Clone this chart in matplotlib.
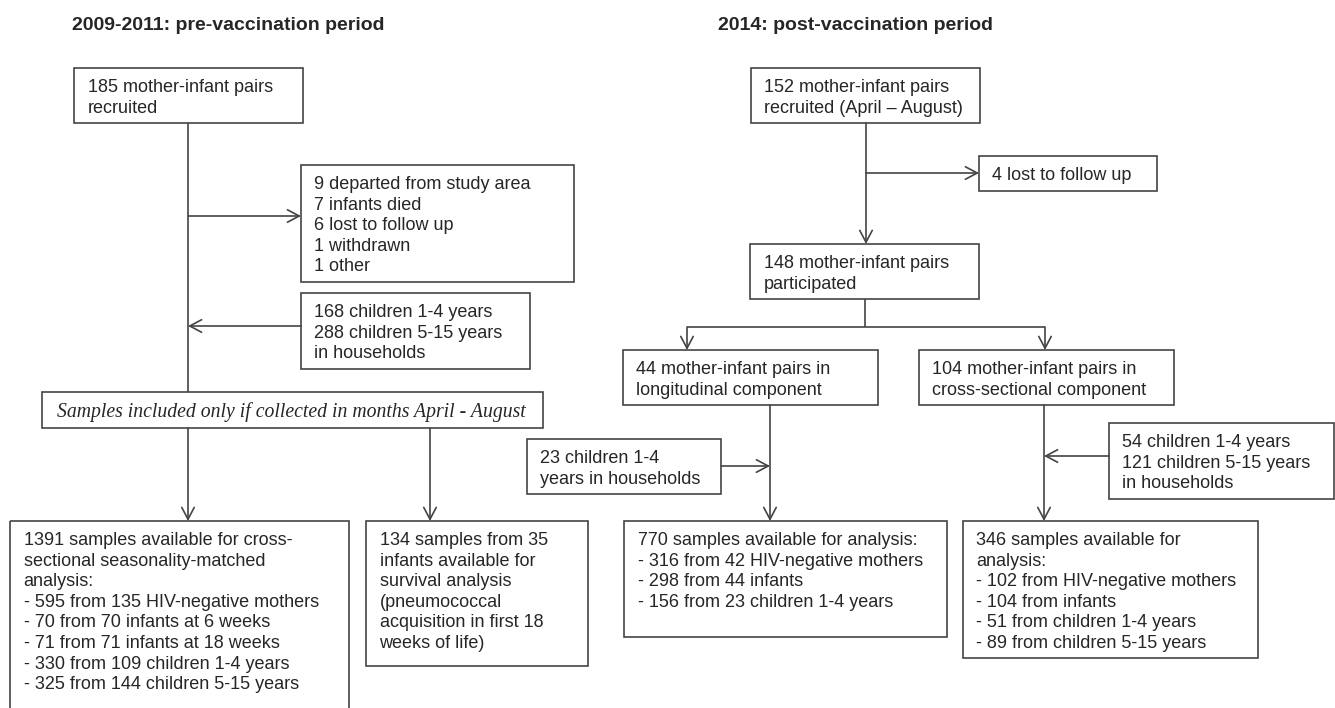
import matplotlib
matplotlib.use('Agg')
import matplotlib.pyplot as plt
from matplotlib.patches import Rectangle

# texts of the flow chart
title_pre = '2009-2011: pre-vaccination period'
title_post = '2014: post-vaccination period'

pre_recruited = ['185 mother-infant pairs', 'recruited']
pre_lost = ['9 departed from study area', '7 infants died', '6 lost to follow up',
            '1 withdrawn', '1 other']
pre_household = ['168 children 1-4 years', '288 children 5-15 years', 'in households']
pre_filter = 'Samples included only if collected in months April - August'
pre_cross = ['1391 samples available for cross-', 'sectional seasonality-matched',
             'analysis:', '- 595 from 135 HIV-negative mothers',
             '- 70 from 70 infants at 6 weeks', '- 71 from 71 infants at 18 weeks',
             '- 330 from 109 children 1-4 years', '- 325 from 144 children 5-15 years']
pre_survival = ['134 samples from 35', 'infants available for', 'survival analysis',
                '(pneumococcal', 'acquisition in first 18', 'weeks of life)']

post_recruited = ['152 mother-infant pairs', 'recruited (April \u2013 August)']
post_lost = ['4 lost to follow up']
post_participated = ['148 mother-infant pairs', 'participated']
post_long = ['44 mother-infant pairs in', 'longitudinal component']
post_cross = ['104 mother-infant pairs in', 'cross-sectional component']
post_long_hh = ['23 children 1-4', 'years in households']
post_cross_hh = ['54 children 1-4 years', '121 children 5-15 years', 'in households']
post_long_samples = ['770 samples available for analysis:',
                     '- 316 from 42 HIV-negative mothers', '- 298 from 44 infants',
                     '- 156 from 23 children 1-4 years']
post_cross_samples = ['346 samples available for', 'analysis:',
                      '- 102 from HIV-negative mothers', '- 104 from infants',
                      '- 51 from children 1-4 years', '- 89 from children 5-15 years']

# layout in pixels: (x0, y0, x1, y1), text lines
boxes = [
    ((74, 68, 303, 123), pre_recruited),
    ((301, 165, 574, 282), pre_lost),
    ((301, 293, 530, 369), pre_household),
    ((10, 521, 349, 740), pre_cross),
    ((366, 521, 588, 666), pre_survival),
    ((751, 68, 980, 123), post_recruited),
    ((979, 156, 1157, 191), post_lost),
    ((750, 244, 979, 299), post_participated),
    ((623, 350, 878, 405), post_long),
    ((919, 350, 1174, 405), post_cross),
    ((527, 439, 721, 494), post_long_hh),
    ((1109, 423, 1334, 499), post_cross_hh),
    ((624, 521, 947, 637), post_long_samples),
    ((963, 521, 1258, 658), post_cross_samples),
]
filter_box = (42, 392, 543, 428)

lines = [((188, 123), (188, 392)), ((865, 299), (865, 327)), ((687, 327), (1045, 327))]
arrows = [
    ((188, 216), (301, 216)), ((301, 326), (188, 326)),
    ((188, 428), (188, 521)), ((430, 428), (430, 521)),
    ((866, 123), (866, 244)), ((866, 173), (979, 173)),
    ((687, 327), (687, 350)), ((1045, 327), (1045, 350)),
    ((770, 405), (770, 521)), ((721, 466), (770, 466)),
    ((1044, 405), (1044, 521)), ((1109, 456), (1044, 456)),
]

W, H = 1335, 708
fig = plt.figure(figsize=(W / 100, H / 100), dpi=100)
ax = fig.add_axes([0, 0, 1, 1])
ax.set_xlim(0, W)
ax.set_ylim(H, 0)
ax.axis('off')

edge = '#444444'
txt = '#262626'
font = 'Liberation Sans'
lh = 20.6

ax.text(72, 30, title_pre, fontsize=14, fontweight='bold', family=font, color=txt)
ax.text(718, 30, title_post, fontsize=14, fontweight='bold', family=font, color=txt)

for (x0, y0, x1, y1), text_lines in boxes:
    ax.add_patch(Rectangle((x0, y0), x1 - x0, y1 - y0, fill=False, ec=edge, lw=1.2))
    for i, t in enumerate(text_lines):
        ax.text(x0 + 13.5, y0 + 24 + i * lh, t, fontsize=13, family=font,
                color=txt, va='baseline')

x0, y0, x1, y1 = filter_box
ax.add_patch(Rectangle((x0, y0), x1 - x0, y1 - y0, fill=False, ec=edge, lw=1.2))
ax.text(x0 + 15, (y0 + y1) / 2 + 6.5, pre_filter, fontsize=14.2, style='italic',
        family='Liberation Serif', color=txt, va='baseline')

for a, b in lines:
    ax.plot([a[0], b[0]], [a[1], b[1]], color=edge, lw=1.2, solid_capstyle='butt')

for a, b in arrows:
    ax.annotate('', xy=b, xytext=a,
                arrowprops=dict(arrowstyle='->,head_length=0.85,head_width=0.45',
                                color=edge, lw=1.2, shrinkA=0, shrinkB=0))

fig.savefig('out.png', dpi=100, facecolor='white')
